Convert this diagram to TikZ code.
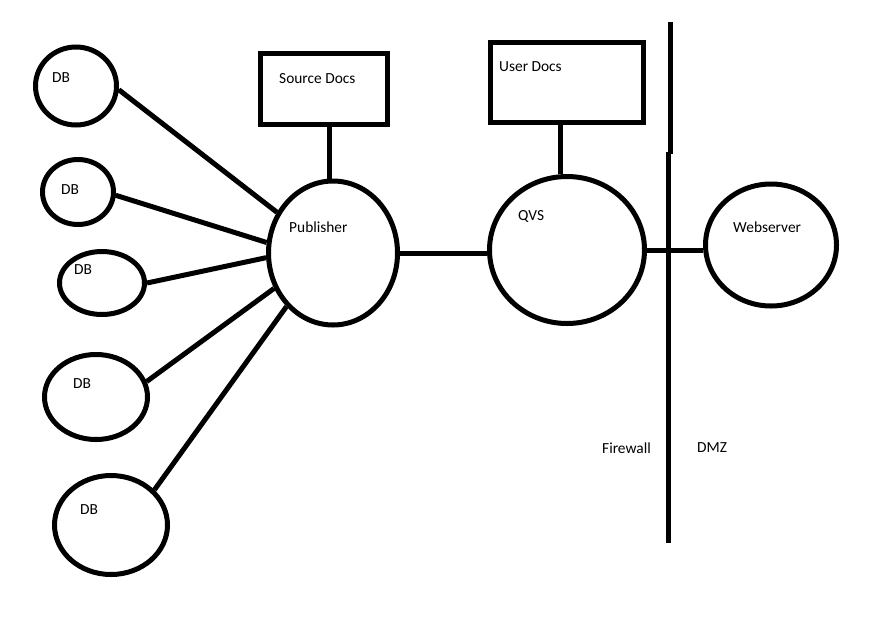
\documentclass[tikz,border=0pt]{standalone}
\usepackage{fontspec}
\setmainfont{Carlito}
\usetikzlibrary{shapes.geometric, positioning, calc}

\begin{document}
\begin{tikzpicture}[
        x=1pt, y=-1pt,
        every node/.style={font=\fontsize{15.4}{18}\selectfont},
        rund/.style={draw, ellipse, line width=5pt, inner sep=0pt},
        kasten/.style={draw, rectangle, line width=5pt, inner sep=0pt},
        txt/.style={anchor=west, inner sep=0pt},
        verb/.style={line width=5pt},
      ]
      \useasboundingbox (0,0) rectangle (890,632);

      % Datenbanken
      \node[rund, minimum width=81, minimum height=78] (db1) at (76,86) {};
      \node[rund, minimum width=71, minimum height=65] (db2) at (78,192) {};
      \node[rund, minimum width=85, minimum height=63] (db3) at (102,283) {};
      \node[rund, minimum width=103, minimum height=85] (db4) at (96,397) {};
      \node[rund, minimum width=113, minimum height=99] (db5) at (111,525) {};
      \node[txt] (db1t) at (52,78) {DB};
      \node[txt] (db2t) at (61,190) {DB};
      \node[txt] (db3t) at (74,270) {DB};
      \node[txt] (db4t) at (73,384) {DB};
      \node[txt] (db5t) at (80,510) {DB};

      % Server
      \node[rund, minimum width=129, minimum height=144] (pub) at (333,253) {};
      \node[rund, minimum width=155, minimum height=147] (qvs) at (567,250) {};
      \node[rund, minimum width=131, minimum height=122] (web) at (771,245) {};
      \node[txt] (pubt) at (289,227) {Publisher};
      \node[txt] (qvst) at (518,217) {QVS};
      \node[txt] (webt) at (733,227) {Webserver};

      % Dokumente
      \node[kasten, minimum width=127, minimum height=71] (src) at (324,89) {};
      \node[kasten, minimum width=153, minimum height=80] (usr) at (567,82.5) {};
      \node[txt] (srct) at (279,79) {Source Docs};
      \node[txt] (usrt) at (499,67) {User Docs};

      % Verbindungen
      \draw[verb] (db1.-5) -- (pub.144);
      \draw[verb] (db2.-5) -- (pub.171);
      \draw[verb] (db3.0) -- (pub.184);
      \draw[verb] (db4.17) -- (pub.211);
      \draw[verb] (db5.39) -- (pub.229);
      \draw[verb] (pub.93) -- (pub.93 |- src.south);
      \draw[verb] (qvs.95) -- (qvs.95 |- usr.south);
      \draw[verb] (pub.east) -- (pub.east -| qvs.west);
      \draw[verb] (qvs.east) -- (qvs.east -| web.west);

      % Firewall
      \coordinate (fwa) at (670,22);
      \coordinate (fwb) at (670,154);
      \coordinate (fwc) at (668,152);
      \coordinate (fwd) at (668,543);
      \draw[verb] (fwa) -- (fwb);
      \draw[verb] (fwc) -- (fwd);
      \node[txt] (fwt) at (602,448) {Firewall};
      \node[txt] (dmzt) at (697,448) {DMZ};
    \end{tikzpicture}
\end{document}
